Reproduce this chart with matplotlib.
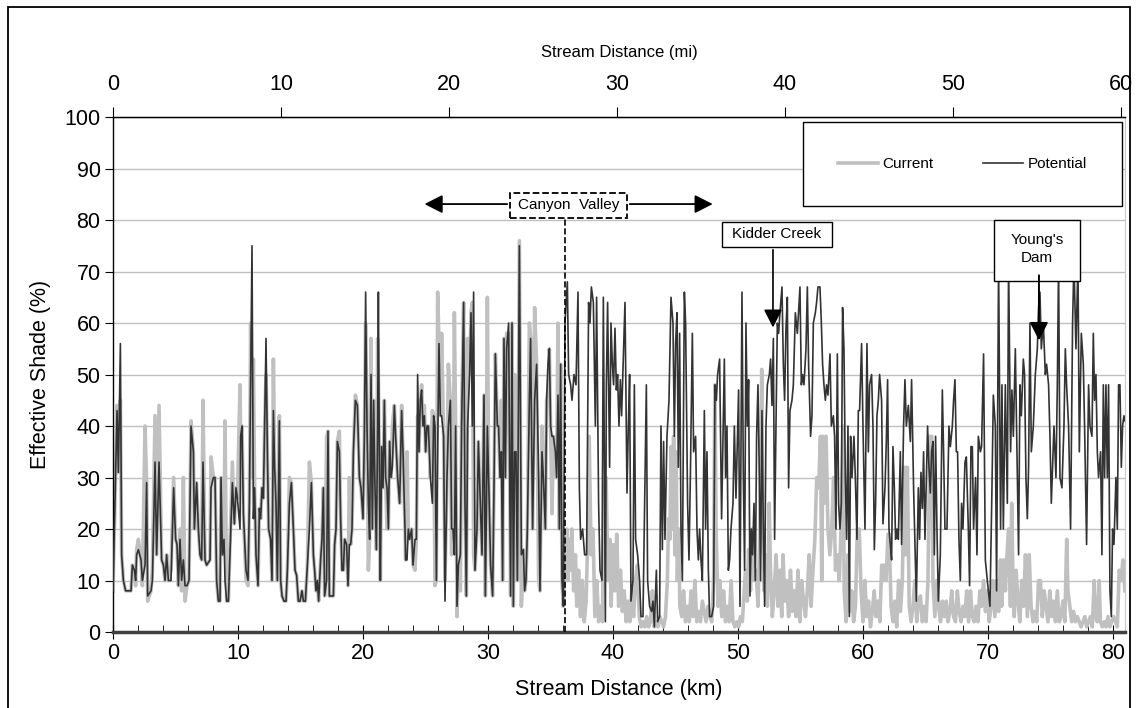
import matplotlib.pyplot as plt
from matplotlib.patches import Rectangle
from matplotlib.ticker import MultipleLocator

plt.rcParams['font.family'] = ['Liberation Sans', 'DejaVu Sans']

# Stations upstream of the canyon mouth, shared by both series (km)
km_west = [
    0.0, 0.32, 0.43, 0.59, 0.69, 0.83, 1.01, 1.44, 1.55, 1.71,
    1.81, 1.89, 2.03, 2.24, 2.35, 2.56, 2.69, 2.77, 3.04, 3.15,
    3.36, 3.49, 3.68, 3.89, 4.03, 4.16, 4.29, 4.43, 4.64, 4.85,
    5.01, 5.12, 5.23, 5.36, 5.49, 5.63, 5.76, 5.92, 6.08, 6.24,
    6.43, 6.51, 6.69, 6.83, 6.96, 7.09, 7.2, 7.36, 7.49, 7.76,
    7.84, 8.03, 8.16, 8.29, 8.43, 8.56, 8.64, 8.75, 8.88, 8.96,
    9.09, 9.23, 9.55, 9.71, 9.84, 9.95, 10.16, 10.21, 10.32, 10.43,
    10.64, 10.8, 10.91, 11.01, 11.12, 11.23, 11.33, 11.44, 11.6, 11.71,
    11.81, 11.92, 12.03, 12.13, 12.24, 12.35, 12.45, 12.61, 12.72, 12.83,
    12.93, 13.04, 13.15, 13.31, 13.41, 13.52, 13.68, 13.84, 13.95, 14.11,
    14.27, 14.43, 14.56, 14.69, 14.83, 14.96, 15.12, 15.23, 15.39, 15.55,
    15.71, 15.87, 16.03, 16.13, 16.24, 16.35, 16.45, 16.61, 16.72, 16.83,
    16.93, 17.09, 17.2, 17.31, 17.63, 17.73, 17.84, 17.95, 18.11, 18.21,
    18.32, 18.43, 18.53, 18.69, 18.8, 18.91, 19.01, 19.12, 19.23, 19.39,
    19.55, 19.71, 19.84, 20.0, 20.11, 20.21, 20.32, 20.43, 20.53, 20.64,
    20.75, 20.85, 20.96, 21.07, 21.17, 21.23, 21.33, 21.39, 21.49, 21.6,
    21.71, 21.81, 21.92, 22.03, 22.13, 22.24, 22.35, 22.51, 22.61, 22.77,
    22.93, 23.09, 23.2, 23.36, 23.41, 23.52, 23.63, 23.73, 23.89, 24.0,
    24.16, 24.27, 24.37, 24.48, 24.59, 24.69, 24.8, 24.91, 25.01, 25.12,
    25.23, 25.39, 25.55, 25.65, 25.76, 25.87, 25.97, 26.08, 26.19, 26.29,
    26.45, 26.56, 26.72, 26.83, 26.99, 27.09, 27.2, 27.31, 27.41, 27.52,
    27.63, 27.79, 27.89, 28.05, 28.16, 28.27, 28.37, 28.53, 28.64, 28.75,
    28.85, 28.96, 29.12, 29.23, 29.39, 29.52, 29.68, 29.79, 29.95, 30.05,
    30.21, 30.37, 30.48, 30.59, 30.75, 30.85, 30.96, 31.07, 31.17, 31.28,
    31.39, 31.49, 31.65, 31.81, 31.92, 32.03, 32.13, 32.24, 32.35, 32.51,
    32.67, 32.83, 32.93, 33.04, 33.15, 33.31, 33.41, 33.57, 33.73, 33.89,
    34.05, 34.16, 34.32, 34.43, 34.59, 34.69, 34.8, 34.91, 35.01, 35.12,
    35.23, 35.39, 35.49, 35.6, 35.71, 35.81, 35.92, 36.03,
]
potential_west = [
    8, 43, 31, 56, 15, 10, 8, 8, 13, 12,
    10, 15, 16, 14, 10, 13, 29, 7, 8, 10,
    33, 15, 33, 14, 13, 10, 15, 10, 10, 28,
    18, 17, 9, 18, 10, 14, 9, 9, 10, 40,
    35, 20, 29, 20, 15, 14, 33, 14, 13, 14,
    28, 30, 30, 10, 6, 6, 30, 15, 18, 10,
    6, 6, 29, 21, 28, 26, 20, 38, 40, 23,
    12, 10, 25, 48, 75, 22, 28, 15, 9, 24,
    22, 28, 26, 40, 57, 35, 20, 18, 10, 43,
    32, 25, 10, 41, 10, 7, 6, 6, 12, 25,
    29, 20, 12, 11, 6, 6, 8, 6, 6, 13,
    20, 29, 15, 12, 8, 10, 6, 14, 18, 28,
    7, 10, 39, 7, 7, 17, 20, 37, 35, 22,
    12, 12, 18, 17, 9, 17, 17, 20, 35, 45,
    44, 30, 28, 22, 38, 66, 40, 25, 18, 50,
    20, 45, 28, 16, 40, 66, 25, 10, 36, 28,
    45, 30, 28, 20, 37, 30, 32, 44, 38, 30,
    25, 43, 35, 20, 14, 14, 20, 18, 20, 13,
    18, 18, 50, 35, 45, 47, 40, 42, 35, 40,
    40, 30, 25, 42, 40, 10, 35, 56, 42, 42,
    38, 6, 30, 40, 45, 20, 20, 15, 40, 5,
    13, 15, 40, 64, 25, 7, 40, 50, 62, 40,
    66, 12, 20, 37, 25, 15, 46, 7, 40, 30,
    13, 7, 28, 54, 40, 40, 30, 35, 10, 57,
    30, 55, 60, 7, 60, 5, 35, 35, 10, 75,
    15, 16, 8, 10, 20, 45, 57, 20, 45, 52,
    30, 8, 35, 30, 20, 45, 52, 55, 40, 38,
    38, 35, 30, 46, 20, 52, 10, 5,
]
current_west = [
    8, 44, 31, 45, 15, 10, 8, 8, 13, 12,
    9, 16, 18, 14, 9, 40, 29, 6, 8, 12,
    42, 15, 44, 14, 13, 10, 15, 10, 12, 30,
    18, 17, 9, 20, 8, 30, 6, 9, 10, 41,
    35, 20, 29, 20, 15, 14, 45, 14, 13, 14,
    34, 30, 30, 10, 6, 6, 30, 15, 18, 41,
    6, 6, 33, 21, 28, 26, 48, 38, 40, 23,
    10, 9, 25, 60, 30, 53, 28, 15, 9, 24,
    22, 28, 26, 40, 50, 35, 20, 18, 10, 53,
    32, 25, 10, 42, 10, 7, 6, 6, 12, 30,
    29, 20, 12, 11, 6, 6, 8, 6, 6, 13,
    33, 29, 15, 12, 8, 10, 6, 14, 18, 28,
    7, 38, 39, 7, 7, 17, 20, 37, 39, 22,
    12, 12, 18, 17, 9, 30, 17, 20, 35, 46,
    44, 30, 28, 22, 38, 60, 40, 12, 18, 57,
    20, 45, 28, 16, 57, 50, 25, 10, 36, 28,
    45, 30, 20, 20, 37, 30, 40, 44, 38, 30,
    25, 44, 35, 20, 14, 35, 20, 18, 20, 13,
    12, 18, 42, 35, 45, 48, 40, 44, 35, 40,
    40, 30, 43, 42, 9, 10, 66, 56, 42, 58,
    38, 10, 30, 52, 45, 15, 20, 62, 40, 3,
    13, 8, 42, 64, 25, 7, 57, 50, 62, 64,
    15, 12, 20, 37, 25, 15, 46, 7, 65, 30,
    13, 7, 28, 54, 40, 40, 30, 45, 10, 57,
    30, 58, 58, 7, 60, 5, 50, 35, 10, 76,
    5, 16, 8, 10, 20, 60, 57, 20, 63, 52,
    10, 8, 40, 30, 20, 45, 47, 55, 40, 23,
    38, 35, 30, 60, 20, 52, 10, 5,
]

# Downstream of the canyon: potential shade stations (km)
km_east = [
    36.16, 36.35, 36.45, 36.61, 36.72, 36.88, 37.04, 37.2, 37.31, 37.41,
    37.57, 37.73, 37.89, 38.05, 38.16, 38.27, 38.43, 38.59, 38.69, 38.85,
    38.96, 39.12, 39.23, 39.39, 39.47, 39.57, 39.73, 39.84, 39.95, 40.05,
    40.16, 40.27, 40.37, 40.48, 40.59, 40.69, 40.85, 40.96, 41.12, 41.23,
    41.33, 41.44, 41.6, 41.71, 41.81, 41.97, 42.13, 42.24, 42.4, 42.56,
    42.67, 42.77, 42.93, 43.09, 43.2, 43.31, 43.47, 43.57, 43.73, 43.84,
    43.95, 44.05, 44.16, 44.32, 44.48, 44.64, 44.8, 44.91, 45.01, 45.12,
    45.23, 45.33, 45.44, 45.55, 45.71, 45.81, 45.97, 46.08, 46.19, 46.35,
    46.45, 46.61, 46.72, 46.83, 46.93, 47.04, 47.15, 47.31, 47.41, 47.52,
    47.63, 47.73, 47.89, 48.05, 48.16, 48.27, 48.37, 48.53, 48.69, 48.8,
    48.91, 49.01, 49.12, 49.23, 49.33, 49.44, 49.6, 49.71, 49.84, 50.05,
    50.16, 50.32, 50.43, 50.53, 50.64, 50.75, 50.85, 50.96, 51.07, 51.17,
    51.28, 51.39, 51.49, 51.6, 51.71, 51.81, 51.92, 52.03, 52.13, 52.24,
    52.35, 52.51, 52.61, 52.72, 52.83, 52.93, 53.04, 53.15, 53.25, 53.36,
    53.52, 53.63, 53.73, 53.84, 53.95, 54.05, 54.16, 54.32, 54.43, 54.59,
    54.75, 54.96, 55.07, 55.17, 55.28, 55.44, 55.55, 55.65, 55.81, 55.92,
    56.03, 56.19, 56.29, 56.4, 56.56, 56.67, 56.77, 56.88, 56.99, 57.09,
    57.2, 57.36, 57.47, 57.63, 57.73, 57.84, 57.95, 58.05, 58.16, 58.27,
    58.37, 58.48, 58.59, 58.69, 58.8, 58.91, 59.01, 59.12, 59.28, 59.39,
    59.52, 59.63, 59.73, 59.89, 60.0, 60.16, 60.32, 60.43, 60.53, 60.69,
    60.8, 60.91, 61.01, 61.12, 61.23, 61.33, 61.49, 61.6, 61.76, 61.87,
    61.97, 62.08, 62.19, 62.29, 62.4, 62.51, 62.61, 62.72, 62.83, 62.99,
    63.09, 63.25, 63.36, 63.47, 63.63, 63.79, 63.89, 64.05, 64.16, 64.27,
    64.43, 64.53, 64.64, 64.75, 64.85, 64.96, 65.07, 65.17, 65.28, 65.39,
    65.49, 65.6, 65.71, 65.81, 65.92, 66.03, 66.19, 66.35, 66.45, 66.56,
    66.72, 66.88, 66.99, 67.15, 67.25, 67.36, 67.47, 67.57, 67.68, 67.79,
    67.89, 68.0, 68.16, 68.27, 68.43, 68.53, 68.64, 68.75, 68.85, 69.01,
    69.12, 69.23, 69.39, 69.49, 69.65, 69.79, 69.95, 70.16, 70.32, 70.43,
    70.59, 70.69, 70.85, 71.01, 71.12, 71.23, 71.39, 71.55, 71.65, 71.81,
    71.92, 72.03, 72.19, 72.29, 72.45, 72.56, 72.67, 72.83, 72.93, 73.04,
    73.15, 73.25, 73.36, 73.47, 73.63, 73.79, 73.95, 74.05, 74.16, 74.27,
    74.43, 74.59, 74.69, 74.85, 74.96, 75.07, 75.17, 75.28, 75.44, 75.55,
    75.65, 75.76, 75.92, 76.08, 76.19, 76.29, 76.45, 76.61, 76.77, 76.88,
    77.04, 77.2, 77.31, 77.47, 77.63, 77.73, 77.89, 78.05, 78.16, 78.32,
    78.43, 78.53, 78.64, 78.75, 78.85, 79.01, 79.12, 79.23, 79.33, 79.44,
    79.55, 79.65, 79.76, 79.87, 79.97, 80.08, 80.24, 80.35, 80.45, 80.56,
    80.67, 80.77, 80.88, 80.96,
]
potential_east = [
    60, 68, 50, 48, 45, 50, 48, 66, 28, 18,
    20, 15, 15, 64, 60, 67, 64, 40, 65, 25,
    12, 10, 65, 2, 48, 64, 32, 60, 52, 48,
    59, 47, 50, 40, 49, 42, 55, 64, 27, 40,
    50, 6, 10, 48, 18, 15, 10, 3, 3, 30,
    48, 10, 5, 4, 6, 1, 12, 2, 3, 40,
    16, 37, 18, 38, 45, 65, 60, 38, 56, 62,
    32, 58, 20, 10, 66, 60, 25, 14, 30, 58,
    35, 38, 20, 14, 20, 14, 10, 43, 20, 35,
    12, 3, 3, 5, 48, 45, 50, 53, 22, 38,
    53, 30, 40, 12, 14, 20, 25, 40, 26, 47,
    5, 66, 30, 12, 60, 40, 49, 7, 20, 15,
    25, 10, 38, 48, 30, 10, 43, 20, 5, 40,
    48, 50, 53, 44, 57, 18, 40, 60, 58, 62,
    67, 52, 45, 59, 65, 28, 43, 45, 48, 62,
    58, 67, 48, 50, 48, 55, 67, 52, 38, 42,
    60, 62, 64, 67, 67, 60, 52, 48, 45, 48,
    46, 54, 40, 42, 38, 20, 54, 25, 20, 25,
    63, 55, 30, 18, 40, 3, 38, 30, 38, 30,
    18, 43, 43, 56, 40, 20, 56, 35, 48, 50,
    40, 16, 25, 42, 45, 50, 45, 21, 28, 37,
    49, 20, 17, 14, 36, 28, 18, 20, 18, 35,
    17, 40, 49, 40, 44, 37, 49, 28, 17, 6,
    28, 18, 31, 24, 35, 18, 30, 40, 32, 27,
    35, 37, 15, 38, 20, 6, 15, 47, 35, 20,
    20, 40, 36, 40, 45, 49, 35, 35, 18, 10,
    25, 20, 33, 34, 20, 9, 36, 36, 20, 30,
    15, 38, 35, 36, 54, 14, 10, 5, 28, 46,
    40, 8, 72, 20, 48, 20, 48, 25, 72, 35,
    47, 38, 55, 40, 15, 48, 42, 53, 50, 30,
    22, 32, 60, 35, 40, 50, 55, 63, 66, 55,
    60, 50, 52, 48, 38, 25, 32, 40, 30, 48,
    72, 30, 28, 40, 55, 48, 40, 20, 60, 72,
    55, 72, 35, 58, 52, 40, 17, 48, 40, 38,
    58, 45, 50, 35, 30, 35, 15, 48, 30, 48,
    30, 48, 8, 3, 20, 17, 30, 20, 48, 48,
    32, 40, 42, 41,
]

# Downstream of the canyon: current shade stations (km)
km_current_east = [
    36.16, 36.3, 36.4, 36.5, 36.6, 36.7, 36.85, 37.0, 37.1, 37.25,
    37.4, 37.55, 37.7, 37.85, 38.0, 38.1, 38.25, 38.4, 38.55, 38.7,
    38.85, 39.0, 39.15, 39.3, 39.45, 39.6, 39.75, 39.85, 40.0, 40.15,
    40.3, 40.45, 40.6, 40.75, 40.9, 41.05, 41.2, 41.35, 41.5, 41.65,
    41.8, 41.95, 42.1, 42.25, 42.4, 42.55, 42.7, 42.85, 43.0, 43.15,
    43.3, 43.45, 43.6, 43.75, 43.9, 44.05, 44.2, 44.35, 44.45, 44.55,
    44.65, 44.75, 44.85, 44.95, 45.05, 45.15, 45.25, 45.35, 45.5, 45.65,
    45.8, 45.95, 46.1, 46.25, 46.4, 46.55, 46.7, 46.85, 47.0, 47.15,
    47.3, 47.45, 47.6, 47.75, 47.9, 48.05, 48.15, 48.25, 48.4, 48.55,
    48.7, 48.85, 49.0, 49.15, 49.3, 49.45, 49.6, 49.75, 49.9, 50.05,
    50.2, 50.35, 50.5, 50.6, 50.75, 50.85, 51.0, 51.15, 51.3, 51.45,
    51.6, 51.75, 51.9, 52.0, 52.1, 52.2, 52.35, 52.5, 52.6, 52.75,
    52.9, 53.05, 53.2, 53.35, 53.5, 53.6, 53.75, 53.9, 54.05, 54.2,
    54.35, 54.5, 54.65, 54.8, 54.95, 55.1, 55.25, 55.4, 55.55, 55.7,
    55.85, 56.0, 56.15, 56.3, 56.45, 56.6, 56.7, 56.8, 56.9, 57.05,
    57.2, 57.35, 57.5, 57.65, 57.8, 57.95, 58.1, 58.25, 58.4, 58.5,
    58.65, 58.8, 58.95, 59.1, 59.25, 59.4, 59.55, 59.7, 59.85, 60.0,
    60.15, 60.3, 60.45, 60.6, 60.75, 60.9, 61.05, 61.2, 61.35, 61.5,
    61.6, 61.7, 61.85, 62.0, 62.1, 62.25, 62.4, 62.55, 62.7, 62.85,
    63.0, 63.15, 63.3, 63.4, 63.55, 63.7, 63.85, 64.0, 64.15, 64.3,
    64.45, 64.6, 64.75, 64.9, 65.05, 65.2, 65.35, 65.5, 65.6, 65.75,
    65.9, 66.05, 66.2, 66.35, 66.5, 66.65, 66.8, 66.95, 67.1, 67.25,
    67.4, 67.55, 67.7, 67.85, 68.0, 68.15, 68.3, 68.45, 68.6, 68.75,
    68.9, 69.05, 69.2, 69.35, 69.5, 69.65, 69.8, 69.95, 70.1, 70.25,
    70.4, 70.55, 70.7, 70.85, 71.0, 71.1, 71.25, 71.4, 71.5, 71.65,
    71.8, 71.9, 72.0, 72.1, 72.25, 72.4, 72.55, 72.7, 72.85, 73.0,
    73.15, 73.3, 73.45, 73.6, 73.75, 73.9, 74.05, 74.2, 74.35, 74.5,
    74.65, 74.8, 74.95, 75.1, 75.25, 75.4, 75.55, 75.7, 75.85, 76.0,
    76.15, 76.3, 76.4, 76.55, 76.7, 76.85, 77.0, 77.15, 77.3, 77.45,
    77.6, 77.75, 77.9, 78.05, 78.2, 78.35, 78.5, 78.6, 78.75, 78.9,
    79.0, 79.15, 79.3, 79.45, 79.6, 79.75, 79.9, 80.05, 80.2, 80.35,
    80.5, 80.65, 80.8, 80.96,
]
current_east = [
    14, 20, 10, 18, 12, 20, 8, 15, 5, 12,
    3, 10, 2, 6, 20, 38, 15, 20, 3, 10,
    2, 5, 2, 28, 30, 10, 18, 5, 17, 8,
    19, 5, 12, 4, 8, 2, 6, 2, 8, 3,
    10, 13, 3, 1, 2, 1, 3, 1, 2, 8,
    1, 2, 1, 3, 2, 1, 3, 10, 22, 18,
    36, 20, 38, 15, 35, 10, 20, 5, 3, 8,
    2, 5, 2, 8, 3, 10, 2, 4, 2, 6,
    4, 2, 5, 3, 2, 10, 48, 20, 5, 10,
    3, 8, 2, 5, 2, 10, 2, 1, 2, 1,
    3, 2, 8, 12, 6, 16, 8, 20, 10, 12,
    5, 20, 51, 20, 8, 15, 5, 25, 12, 3,
    8, 15, 5, 12, 3, 15, 6, 10, 3, 12,
    4, 8, 3, 12, 2, 10, 6, 3, 8, 15,
    5, 12, 18, 30, 28, 38, 10, 38, 25, 38,
    20, 15, 20, 30, 12, 15, 10, 20, 40, 8,
    2, 15, 4, 8, 2, 5, 20, 20, 8, 2,
    10, 3, 6, 1, 4, 8, 3, 6, 2, 13,
    10, 13, 10, 19, 19, 5, 2, 6, 1, 10,
    4, 10, 32, 15, 32, 5, 2, 5, 10, 2,
    6, 7, 2, 5, 2, 10, 38, 38, 10, 3,
    10, 5, 2, 6, 3, 6, 2, 4, 8, 3,
    2, 8, 4, 2, 5, 3, 8, 2, 8, 3,
    2, 5, 2, 8, 5, 10, 4, 8, 2, 5,
    10, 3, 10, 4, 14, 5, 14, 8, 14, 20,
    5, 25, 10, 3, 12, 6, 2, 10, 5, 15,
    3, 15, 5, 2, 4, 2, 10, 10, 3, 8,
    5, 2, 8, 3, 6, 2, 8, 2, 3, 6,
    2, 18, 8, 5, 2, 4, 2, 3, 2, 1,
    2, 3, 1, 2, 3, 1, 10, 3, 2, 10,
    2, 1, 2, 1, 3, 1, 2, 3, 2, 1,
    12, 10, 14, 8,
]

km_ticks = list(range(0, 81, 10))
mi_ticks = list(range(0, 61, 10))
shade_ticks = list(range(0, 101, 10))

fig = plt.figure(figsize=(11.37, 7.08), dpi=100)
ax = fig.add_axes([0.0994, 0.1073, 0.8900, 0.7274])

ax.plot(km_west + km_current_east, current_west + current_east,
        color='#c0c0c0', lw=2.6, zorder=2, label='Current')
ax.plot(km_west + km_east, potential_west + potential_east,
        color='#333333', lw=1.2, zorder=3, label='Potential')

ax.set_xlim(0, 80.96)
ax.set_ylim(0, 100)
ax.set_xticks(km_ticks)
ax.xaxis.set_minor_locator(MultipleLocator(2))
ax.set_yticks(shade_ticks)
ax.yaxis.grid(True, color='#c0c0c0', lw=1)
ax.set_axisbelow(True)

ax.spines['bottom'].set_color('#404040')
ax.spines['bottom'].set_linewidth(2.5)
ax.spines['top'].set_linewidth(1.0)
ax.spines['left'].set_linewidth(1.0)
ax.spines['right'].set_color('#c8c8c8')

ax.tick_params(axis='y', direction='out', length=6, labelsize=15.5, pad=3)
ax.tick_params(axis='x', which='major', direction='inout', length=10, labelsize=15.5, pad=3)
ax.tick_params(axis='x', which='minor', direction='in', length=5)
ax.set_xlabel('Stream Distance (km)', fontsize=15.5, labelpad=11)
ax.set_ylabel('Effective Shade (%)', fontsize=15.5, labelpad=10)

# Secondary distance scale in miles along the top
ax2 = ax.twiny()
ax2.set_xlim(0, 60.24)
ax2.set_xticks(mi_ticks)
ax2.tick_params(axis='x', direction='out', length=7, labelsize=15.5, pad=9)
for side in ['bottom', 'left', 'right']:
    ax2.spines[side].set_visible(False)
ax2.set_xlabel('Stream Distance (mi)', fontsize=12, labelpad=12)

# Canyon Valley marker
ax.plot([36.16, 36.16], [0, 80.4], color='black', lw=1.2, ls='--', zorder=4)
ax.add_patch(Rectangle((31.76, 80.4), 9.36, 4.8, fc='white', ec='black', lw=1.3, ls='--', zorder=5))
ax.text(36.44, 82.9, 'Canyon  Valley', ha='center', va='center', fontsize=11, zorder=6)
head = '-|>,head_length=0.55,head_width=0.28'
ax.annotate('', xy=(24.7, 83.1), xytext=(31.76, 83.1),
            arrowprops=dict(arrowstyle=head, color='black', lw=1.3, mutation_scale=20), zorder=5)
ax.annotate('', xy=(48.2, 83.1), xytext=(41.12, 83.1),
            arrowprops=dict(arrowstyle=head, color='black', lw=1.3, mutation_scale=20), zorder=5)

# Kidder Creek
ax.add_patch(Rectangle((48.72, 74.76), 8.8, 4.84, fc='white', ec='black', lw=1.0, zorder=5))
ax.text(53.12, 77.2, 'Kidder Creek', ha='center', va='center', fontsize=11, zorder=6)
ax.annotate('', xy=(52.8, 58.6), xytext=(52.8, 74.76),
            arrowprops=dict(arrowstyle=head, color='black', lw=1.2, mutation_scale=20), zorder=5)

# Young's Dam
ax.add_patch(Rectangle((70.48, 68.2), 6.88, 11.8, fc='white', ec='black', lw=1.0, zorder=5))
ax.text(73.92, 74.3, "Young's\nDam", ha='center', va='center', fontsize=11, linespacing=1.35, zorder=6)
ax.annotate('', xy=(74.08, 56.1), xytext=(74.08, 69.8),
            arrowprops=dict(arrowstyle=head, color='black', lw=1.4, mutation_scale=20), zorder=6)

leg = ax.legend(loc='center', bbox_to_anchor=(0.6818, 0.8233, 0.3152, 0.1709), mode='expand',
                ncol=2, fontsize=11, frameon=True, fancybox=False, edgecolor='black',
                framealpha=1, borderpad=2.3, borderaxespad=0, handlelength=2.6,
                handletextpad=0.3)
leg.get_frame().set_linewidth(1.0)
leg.set_zorder(10)

# outer chart border
fig.add_artist(Rectangle((8 / 1137, -0.01), 1122 / 1137, 701 / 708 + 0.01,
                         transform=fig.transFigure, fill=False, ec='black', lw=1.3))

fig.savefig('out.png', dpi=100)
